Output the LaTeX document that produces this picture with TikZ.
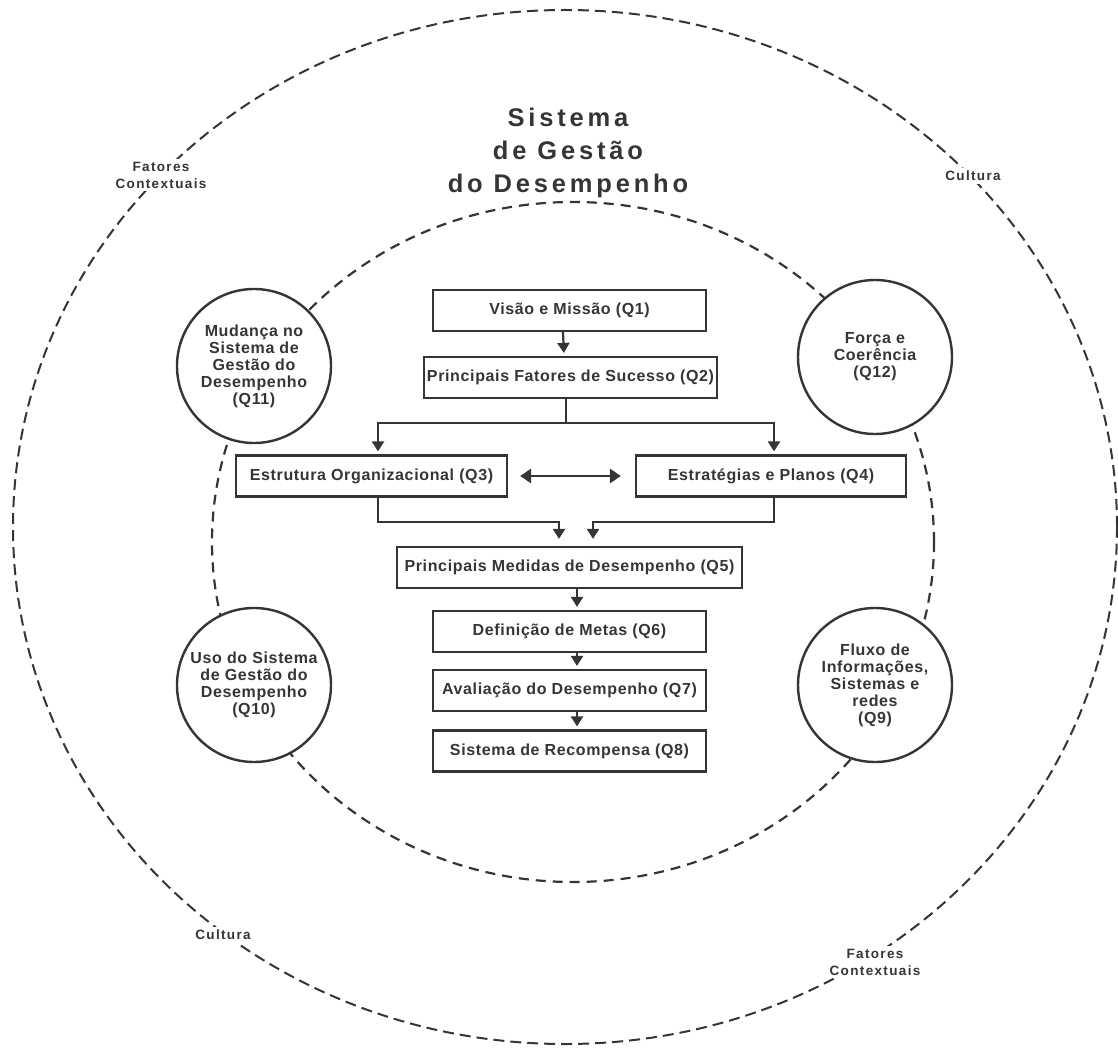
\documentclass[tikz,border=0pt]{standalone}
\usepackage{fontspec}
\setmainfont{Liberation Sans}
\newfontfamily\boxfont[LetterSpace=4]{Liberation Sans}
\newfontfamily\titlefont[LetterSpace=15]{Liberation Sans}
\newfontfamily\lblfont[LetterSpace=10]{Liberation Sans}
\usetikzlibrary{arrows.meta}
\definecolor{ink}{HTML}{353535}

\begin{document}
\begin{tikzpicture}[x=1pt, y=-1pt,
  qbox/.style={draw=ink, line width=2.2pt, minimum height=41pt, inner sep=0pt, text=ink,
    font={\boxfont\bfseries\fontsize{16}{17}\selectfont}},
  qcirc/.style={circle, draw=ink, line width=2.4pt, fill=white, minimum size=154pt, inner sep=0pt,
    align=center, text=ink, font={\boxfont\bfseries\fontsize{16}{17}\selectfont}},
  ring/.style={draw=ink, line width=2pt, dash pattern=on 11pt off 6pt},
  ctx/.style={fill=white, align=center, inner sep=3pt, text=ink,
    font={\lblfont\bfseries\fontsize{13.5}{17}\selectfont}},
  arr/.style={draw=ink, line width=2.2pt, -{Triangle[width=12pt,length=10pt]}, shorten >=3pt},
  dbl/.style={draw=ink, line width=2.6pt, arrows={Triangle[width=14pt,length=11pt]-Triangle[width=14pt,length=11pt]}},
]
  \useasboundingbox (0,0) rectangle (1118,1048);

  % Outer ring and its labels
  \draw[ring] (565,527) ellipse [x radius=552pt, y radius=517pt];
  \node[ctx] (ctxa) at (161,175) {Fatores\\Contextuais};
  \node[ctx] (cula) at (973,176) {Cultura};
  \node[ctx] (culb) at (223,935) {Cultura};
  \node[ctx] (ctxb) at (875,962) {Fatores\\Contextuais};

  % Title
  \node[align=center, text=ink, font={\titlefont\bfseries\fontsize{25.5}{33}\selectfont}] (title) at (568,153)
    {Sistema\\de Gestão\\do Desempenho};

  % Inner ring
  \draw[ring, line width=2.2pt, dash pattern=on 10pt off 7pt] (573,542) ellipse [x radius=361pt, y radius=340pt];

  % Side circles
  \node[qcirc] (q11) at (254,366) {Mudança no\\Sistema de\\Gestão do\\Desempenho\\(Q11)};
  \node[qcirc] (q12) at (875,357) {Força e\\Coerência\\(Q12)};
  \node[qcirc] (q10) at (254,685) {Uso do Sistema\\de Gestão do\\Desempenho\\(Q10)};
  \node[qcirc] (q9)  at (875,685) {Fluxo de\\Informações,\\Sistemas e\\redes\\(Q9)};

  % Boxes
  \node[qbox, minimum width=273pt] (q1) at (569.5,310.5) {Visão e Missão (Q1)};
  \node[qbox, minimum width=293pt] (q2) at (570.5,377.5) {Principais Fatores de Sucesso (Q2)};
  \node[qbox, minimum width=271pt] (q3) at (371.5,476) {Estrutura Organizacional (Q3)};
  \node[qbox, minimum width=270pt] (q4) at (771,476) {Estratégias e Planos (Q4)};
  \node[qbox, minimum width=345pt] (q5) at (569.5,567.5) {Principais Medidas de Desempenho (Q5)};
  \node[qbox, minimum width=273pt] (q6) at (569.5,631.5) {Definição de Metas (Q6)};
  \node[qbox, minimum width=273pt] (q7) at (569.5,690.5) {Avaliação do Desempenho (Q7)};
  \node[qbox, minimum width=273pt] (q8) at (569.5,751) {Sistema de Recompensa (Q8)};

  % Arrows
  \draw[arr] ([xshift=-6.5pt]q1.south) -- ([xshift=-6.5pt]q2.north);
  \draw[arr] ([xshift=-4.5pt]q2.south) -- ++(0,24) -| ([xshift=6.5pt]q3.north);
  \draw[arr] ([xshift=-4.5pt]q2.south) -- ++(0,24) -| ([xshift=3pt]q4.north);
  \draw[dbl, shorten <=12pt, shorten >=14pt] (q3.east) -- (q4.west);
  \draw[arr, shorten >=7pt] ([xshift=6.5pt]q3.south) -- ++(0,24) -| ([xshift=-10.5pt]q5.north);
  \draw[arr, shorten >=7pt] ([xshift=3pt]q4.south) -- ++(0,24) -| ([xshift=23.5pt]q5.north);
  \draw[arr] ([xshift=7.5pt]q5.south) -- ([xshift=7.5pt]q6.north);
  \draw[arr] ([xshift=7.5pt]q6.south) -- ([xshift=7.5pt]q7.north);
  \draw[arr] ([xshift=7.5pt]q7.south) -- ([xshift=7.5pt]q8.north);
\end{tikzpicture}
\end{document}
